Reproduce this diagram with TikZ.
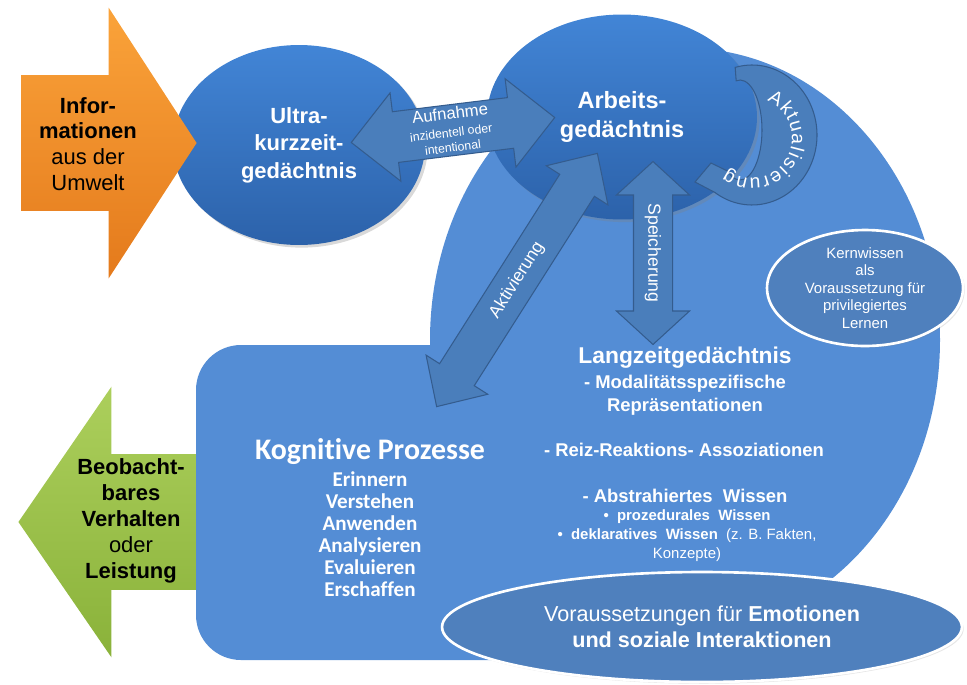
\documentclass[tikz,border=0pt]{standalone}
\usepackage{fontspec}
\setmainfont{Liberation Sans}
\newfontfamily\kogfont[Ligatures=NoCommon]{Carlito}
\usetikzlibrary{shapes.geometric,shapes.arrows,decorations.text,calc,shadows}
\definecolor{bigblue}{RGB}{84,141,213}
\definecolor{elltop}{RGB}{66,133,214}
\definecolor{ellbot}{RGB}{44,98,170}
\definecolor{arrblue}{RGB}{74,126,187}
\definecolor{arrline}{RGB}{52,92,142}
\definecolor{ovalblue}{RGB}{79,128,189}
\definecolor{orangetop}{RGB}{250,163,58}
\definecolor{orangebot}{RGB}{228,122,28}
\definecolor{greentop}{RGB}{172,207,92}
\definecolor{greenbot}{RGB}{138,178,58}

\begin{document}
\begin{tikzpicture}[x=0.02cm,y=-0.02cm,
  memory/.style={ellipse,top color=elltop,bottom color=ellbot,text=white,align=center,inner sep=0pt,
    drop shadow={opacity=0.3,shadow xshift=1.5pt,shadow yshift=-1.5pt}},
  oval/.style={ellipse,fill=ovalblue,draw=white,line width=1.5pt,text=white,align=center,inner sep=0pt,
    drop shadow={opacity=0.2,shadow xshift=1pt,shadow yshift=-1pt}},
  blockarrow/.style={double arrow,draw=arrline,fill=arrblue,line width=0.6pt,inner xsep=0pt,minimum width=0pt},
  bigarrow/.style={single arrow,anchor=tip,inner xsep=0pt,inner ysep=1.35cm,minimum width=0pt,
    single arrow head extend=1.35cm},
  arrowtext/.style={text=white,align=center,inner sep=0pt},
  darktext/.style={text=black,align=center,inner sep=0pt,font=\fontsize{12.5}{14.7}\selectfont},
  lztext/.style={text=white,align=center,inner sep=0pt,font=\bfseries\fontsize{10.5}{13}\selectfont}]
\useasboundingbox (0,0) rectangle (967,684);

\fill[bigblue] (685,340) ellipse [x radius=255, y radius=292];
\path (18,522) node[bigarrow,shape border rotate=180,top color=greentop,bottom color=greenbot,
  minimum height=3.58cm,single arrow tip angle=111] (verh) {};
\fill[bigblue,rounded corners=0.9cm] (196,345) rectangle (620,660);

\path (299,145) node[memory,minimum width=5.04cm,minimum height=4cm,
  font=\bfseries\fontsize{12.5}{15.6}\selectfont] (uk) {Ultra-\\kurzzeit-\\gedächtnis};
\path (197,143) node[bigarrow,top color=orangetop,bottom color=orangebot,
  minimum height=3.5cm,single arrow tip angle=114] (info) {};
\path (622,117) node[memory,minimum width=5.4cm,minimum height=4.1cm,
  font=\bfseries\fontsize{13.4}{16.4}\selectfont] (ag) {Arbeits-\\gedächtnis};

\filldraw[fill=arrblue,draw=arrline,line width=0.6pt]
  ($(752,135)+(105:1.3cm and 1.4cm)$) arc[start angle=105,end angle=-125,x radius=1.3cm,y radius=1.4cm]
  -- (695,182) -- (711,163)
  -- ($(740,130)+(-125:0.44cm and 1cm)$) arc[start angle=-125,end angle=100,x radius=0.44cm,y radius=1cm]
  -- cycle;
\path[decorate,decoration={text along path,text color=white,text align=fit to path,
  text={|\fontsize{11}{13}\selectfont|Aktualisierung}}]
  ($(752,138)+(68:0.8cm)$) arc[start angle=68,end angle=-128,radius=0.8cm];

\path (453,130) node[blockarrow,rotate=7,minimum height=4.1cm,inner ysep=0.5cm,
  double arrow head extend=0.38cm,double arrow tip angle=90] (aufn) {};
\path (517,280) node[blockarrow,rotate=57.6,minimum height=6cm,inner ysep=0.4cm,
  double arrow head extend=0.32cm,double arrow tip angle=88] (aktiv) {};
\path (653,253) node[blockarrow,rotate=-90,minimum height=3.66cm,inner ysep=0.38cm,
  double arrow head extend=0.34cm,double arrow tip angle=95] (speich) {};

\path (865,288) node[oval,minimum width=3.92cm,minimum height=2.32cm,
  font=\fontsize{8.5}{9.9}\selectfont] (kern) {Kernwissen\\als\\Voraussetzung für\\privilegiertes\\Lernen};
\path (702,627) node[oval,minimum width=10.4cm,minimum height=2.2cm,
  font=\fontsize{12.3}{14.7}\selectfont] (vor) {Voraussetzungen für \textbf{Emotionen}\\\textbf{und soziale Interaktionen}};

\path (88,144) node[darktext] (infotxt) {\textbf{Infor-}\\\textbf{mationen}\\aus der\\Umwelt};
\path (131,521) node[darktext] (verhtxt) {\textbf{Beobacht-}\\\textbf{bares}\\\textbf{Verhalten}\\oder\\\textbf{Leistung}};

\path (450,113) node[arrowtext,rotate=7,font=\fontsize{9.5}{11}\selectfont] (aufntxt) {Aufnahme};
\path (452,140) node[arrowtext,rotate=7,font=\fontsize{7}{8.5}\selectfont] (aufnsub) {inzidentell oder\\intentional};
\path (aktiv.center) node[arrowtext,rotate=57.6,font=\fontsize{10}{12}\selectfont] (aktivtxt) {Aktivierung};
\path (speich.center) node[arrowtext,rotate=-90,font=\fontsize{10}{12}\selectfont] (speichtxt) {Speicherung};

\path (370,452) node[arrowtext,font=\kogfont\bfseries\fontsize{17}{20}\selectfont] (kog) {Kognitive Prozesse};
\path (370,534) node[arrowtext,font=\kogfont\bfseries\fontsize{12}{12.5}\selectfont] (kogl)
  {Erinnern\\Verstehen\\Anwenden\\Analysieren\\Evaluieren\\Erschaffen};

\path (685,358) node[lztext,font=\bfseries\fontsize{13}{15}\selectfont] (lz) {Langzeitgedächtnis};
\path (685,395) node[lztext] (lzmod) {- Modalitätsspezifische\\Repräsentationen};
\path (684,450) node[lztext] (lzreiz) {- Reiz-Reaktions- Assoziationen};
\path (685,496) node[lztext] (lzabs) {- Abstrahiertes\ \ Wissen};
\path (687,536) node[lztext,font=\fontsize{8.5}{10.8}\selectfont] (lzwis)
  {\textbf{•\ \ prozedurales\ \ Wissen}\\\textbf{•\ \ deklaratives\ \ Wissen}\ \ (z. B. Fakten,\\Konzepte)};
\end{tikzpicture}
\end{document}
